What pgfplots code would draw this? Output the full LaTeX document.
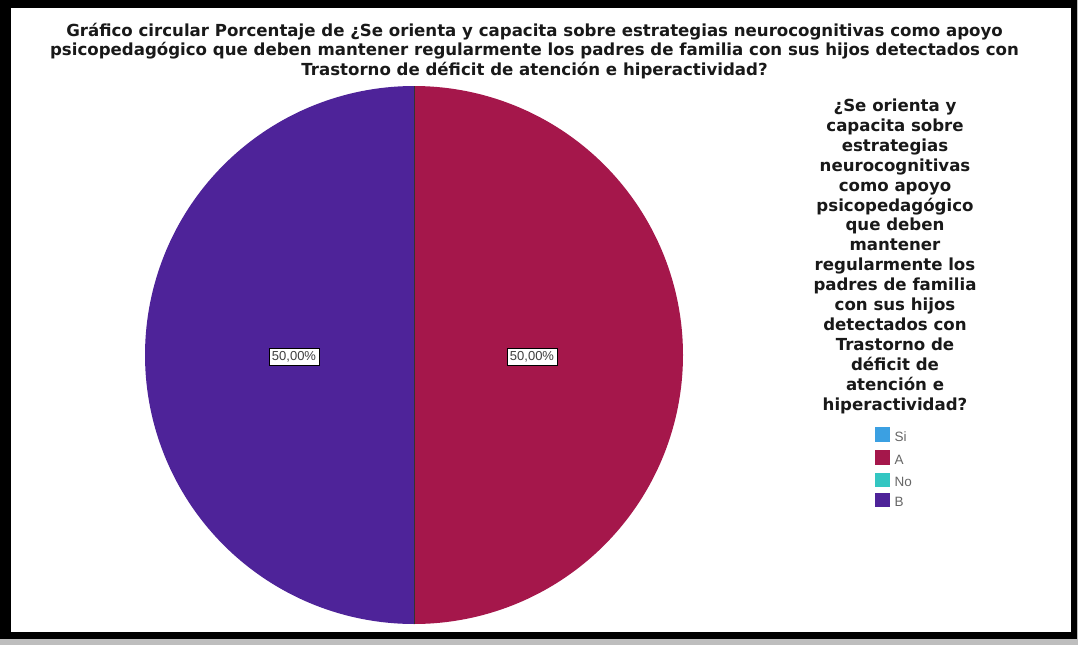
\documentclass[border=0pt]{standalone}
\usepackage{pgfplots}
\pgfplotsset{compat=1.18}
\usepackage{pgfplotstable}
\usepackage{fontspec}
\setmainfont{DejaVu Sans}
\newfontfamily\labfont{Liberation Sans}

\definecolor{cA}{HTML}{A5174B}
\definecolor{cB}{HTML}{4E2399}
\definecolor{cSi}{HTML}{3BA0E2}
\definecolor{cNo}{HTML}{33C6C2}
\definecolor{shadow}{HTML}{BEBEBE}

\pgfplotstableread{
cat value
Si 0
A 50
No 0
B 50
}\piedata
\pgfplotstablegetelem{1}{value}\of\piedata \let\valA\pgfplotsretval
\pgfplotstablegetelem{3}{value}\of\piedata \let\valB\pgfplotsretval
\pgfmathsetmacro{\aS}{90}
\pgfmathsetmacro{\aE}{90-3.6*\valA}
\pgfmathsetmacro{\bE}{\aE-3.6*\valB}

\newcommand{\tline}[3]{\node[anchor=base, font=\bfseries\fontsize{16.6}{19}\selectfont, text=black!90, inner sep=0pt] at (axis cs:#1,#2) {#3};}
% legend entry: colour, top y, label
\newcommand{\lentry}[3]{%
  \fill[#1] (axis cs:875,#2) rectangle (axis cs:890,{#2+14.5});
  \node[anchor=base west, inner sep=0pt, font=\labfont\fontsize{13.5}{15}\selectfont, text=black!60]
    at (axis cs:894.5,{#2+14}) {#3};}

\begin{document}
\begin{tikzpicture}
\begin{axis}[
  scale only axis, width=1078pt, height=645pt,
  xmin=0, xmax=1078, ymin=0, ymax=645, y dir=reverse,
  hide axis, clip=false,
]
% frame
\fill[shadow] (axis cs:0,0) rectangle (axis cs:1078,645);
\fill[black] (axis cs:0,0) rectangle (axis cs:1077,639);
\fill[white] (axis cs:11,8) rectangle (axis cs:1071,632);

% pie wedges (clockwise from 12 o'clock)
\addplot[draw=none, fill=cA, domain=\aE:\aS, samples=181, variable=\t]
  ({414+269*cos(\t)},{355-269*sin(\t)});
\addplot[draw=none, fill=cB, domain=\bE:\aE, samples=181, variable=\t]
  ({414+269*cos(\t)},{355-269*sin(\t)});
\addplot[draw=black!80, line width=1pt] coordinates {(414,86) (414,624)};

% value labels
\node[draw=black, fill=white, inner xsep=3pt, inner ysep=3pt, font=\labfont\fontsize{13}{14}\selectfont, text=black!75]
  at (axis cs:294,357) {50,00\%};
\node[draw=black, fill=white, inner xsep=3pt, inner ysep=3pt, font=\labfont\fontsize{13}{14}\selectfont, text=black!75]
  at (axis cs:532,357) {50,00\%};

% title
\tline{534.5}{36}{Gráfico circular Porcentaje de ¿Se orienta y capacita sobre estrategias neurocognitivas como apoyo}
\tline{534.5}{55.9}{psicopedagógico que deben mantener regularmente los padres de familia con sus hijos detectados con}
\tline{534.5}{75.8}{Trastorno de déficit de atención e hiperactividad?}

% legend title
\tline{895}{111.5}{¿Se orienta y}
\tline{895}{131.4}{capacita sobre}
\tline{895}{151.3}{estrategias}
\tline{895}{171.2}{neurocognitivas}
\tline{895}{191.1}{como apoyo}
\tline{895}{211}{psicopedagógico}
\tline{895}{230.9}{que deben}
\tline{895}{250.8}{mantener}
\tline{895}{270.7}{regularmente los}
\tline{895}{290.6}{padres de familia}
\tline{895}{310.5}{con sus hijos}
\tline{895}{330.4}{detectados con}
\tline{895}{350.3}{Trastorno de}
\tline{895}{370.2}{déficit de}
\tline{895}{390.1}{atención e}
\tline{895}{410}{hiperactividad?}

% legend entries
\lentry{cSi}{427}{Si}
\lentry{cA}{450}{A}
\lentry{cNo}{472.5}{No}
\lentry{cB}{492.5}{B}
\end{axis}
\end{tikzpicture}
\end{document}
